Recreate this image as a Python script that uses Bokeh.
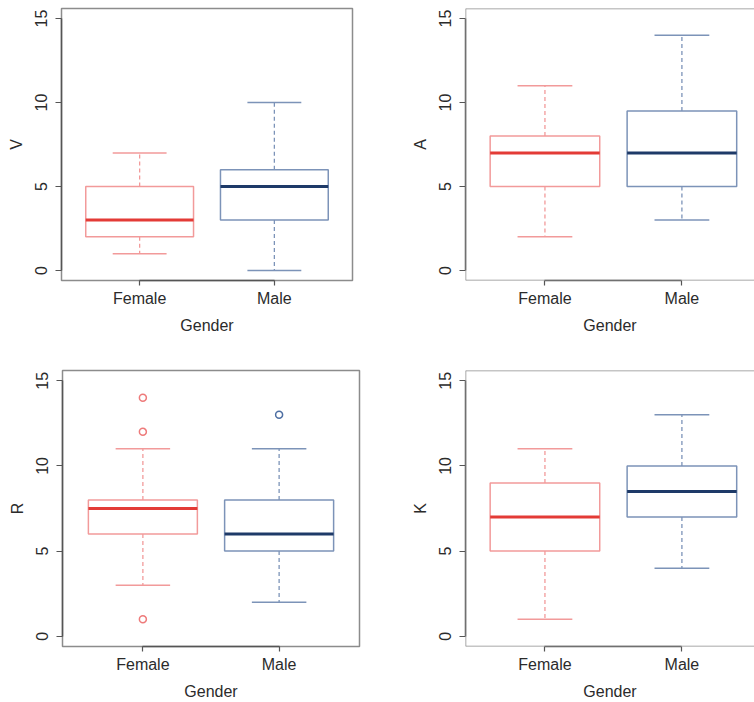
from bokeh.plotting import figure
from bokeh.layouts import column, row
from bokeh.models import Span, FixedTicker
from bokeh.embed import file_html
from bokeh.resources import INLINE

# ---- data ----
groups = ["Female", "Male"]
group_pos = [1, 2]
y_ticks = [0, 5, 10, 15]

v_min = [1, 0]
v_q1 = [2, 3]
v_med = [3, 5]
v_q3 = [5, 6]
v_max = [7, 10]

a_min = [2, 3]
a_q1 = [5, 5]
a_med = [7, 7]
a_q3 = [8, 9.5]
a_max = [11, 14]

r_min = [3, 2]
r_q1 = [6, 5]
r_med = [7.5, 6]
r_q3 = [8, 8]
r_max = [11, 11]
r_out_pos = [1, 1, 1, 2]
r_out_val = [14, 12, 1, 13]

k_min = [1, 4]
k_q1 = [5, 7]
k_med = [7, 8.5]
k_q3 = [9, 10]
k_max = [11, 13]

# ---- style ----
box_col = ["#F29A9A", "#7C93B8"]
med_col = ["#E33B36", "#1E3A68"]
out_col = ["#EE7B7B", "#4E6FA3"]
FONT = "Liberation Sans"
FS = "16px"
HALF = 0.4
CAP = 0.2


def panel(name, mn, q1, md, q3, mx, width, height, borders, x_rng, y_rng,
          right_open=False, out_pos=None, out_val=None):
    bl, br, bt, bb = borders
    p = figure(width=width, height=height, x_range=x_rng, y_range=y_rng,
               output_backend="svg", toolbar_location=None,
               min_border_left=bl, min_border_right=br,
               min_border_top=bt, min_border_bottom=bb)
    p.grid.visible = False
    p.background_fill_color = "white"
    p.border_fill_color = "white"
    frame_col = "#8C8C8C"
    if right_open:
        p.outline_line_color = None
        p.add_layout(Span(location=y_rng[1], dimension="width",
                          line_color=frame_col, line_width=1.5))
        p.add_layout(Span(location=y_rng[0], dimension="width",
                          line_color=frame_col, line_width=1.5))
        p.add_layout(Span(location=x_rng[0], dimension="height",
                          line_color=frame_col, line_width=1.5))
    else:
        p.outline_line_color = frame_col
        p.outline_line_width = 1.5

    for i in range(len(group_pos)):
        x = group_pos[i]
        # whiskers
        p.segment(x0=[x, x], y0=[q3[i], q1[i]], x1=[x, x], y1=[mx[i], mn[i]],
                  line_color=box_col[i], line_width=1.3, line_dash="4 3")
        # caps
        p.segment(x0=[x - CAP, x - CAP], y0=[mx[i], mn[i]],
                  x1=[x + CAP, x + CAP], y1=[mx[i], mn[i]],
                  line_color=box_col[i], line_width=1.5)
        # box
        p.quad(left=[x - HALF], right=[x + HALF], bottom=[q1[i]], top=[q3[i]],
               fill_color=None, line_color=box_col[i], line_width=1.5)
        # median
        p.segment(x0=[x - HALF], y0=[md[i]], x1=[x + HALF], y1=[md[i]],
                  line_color=med_col[i], line_width=3)

    if out_pos is not None:
        cols = [out_col[g - 1] for g in out_pos]
        p.scatter(x=out_pos, y=out_val, marker="circle", size=7,
                  fill_color=None, line_color=cols, line_width=1.5)

    for ax in (p.xaxis[0], p.yaxis[0]):
        ax.axis_line_color = "#555555"
        ax.axis_line_width = 1.5
        ax.major_tick_line_color = "#555555"
        ax.major_tick_line_width = 1.2
        ax.major_tick_in = 0
        ax.minor_tick_line_color = None
        ax.major_label_text_font = FONT
        ax.major_label_text_font_size = FS
        ax.major_label_text_color = "#2b2b2b"
        ax.axis_label_text_font = FONT
        ax.axis_label_text_font_size = FS
        ax.axis_label_text_font_style = "normal"
        ax.axis_label_text_color = "#2b2b2b"

    p.xaxis.ticker = FixedTicker(ticks=group_pos)
    p.xaxis.major_label_overrides = {group_pos[i]: groups[i] for i in range(len(groups))}
    p.xaxis.bounds = (group_pos[0], group_pos[-1])
    p.xaxis.major_tick_out = 5
    p.xaxis.major_label_standoff = 4
    p.xaxis.axis_label = "Gender"
    p.xaxis.axis_label_standoff = 7

    p.yaxis.ticker = FixedTicker(ticks=y_ticks)
    p.yaxis.bounds = (y_ticks[0], y_ticks[-1])
    p.yaxis.major_tick_out = 6
    p.yaxis.major_label_orientation = "parallel"
    p.yaxis.major_label_standoff = 8
    p.yaxis.axis_label = name
    p.yaxis.axis_label_standoff = 8
    return p


p1 = panel("V", v_min, v_q1, v_med, v_q3, v_max, 377, 351, (61, 25, 7, 71),
           (0.42, 2.58), (-0.6, 15.6))
p2 = panel("A", a_min, a_q1, a_med, a_q3, a_max, 377, 351, (88, 0, 8, 65),
           (0.42, 2.53), (-0.6, 15.6), right_open=True)
p3 = panel("R", r_min, r_q1, r_med, r_q3, r_max, 377, 351, (62, 18, 19, 54),
           (0.41, 2.59), (-0.6, 15.6), out_pos=r_out_pos, out_val=r_out_val)
p4 = panel("K", k_min, k_q1, k_med, k_q3, k_max, 377, 351, (88, 0, 19, 54),
           (0.42, 2.53), (-0.6, 15.6), right_open=True)

layout = column(row(p1, p2), row(p3, p4))
open("out.html", "w").write(file_html(layout, INLINE))
